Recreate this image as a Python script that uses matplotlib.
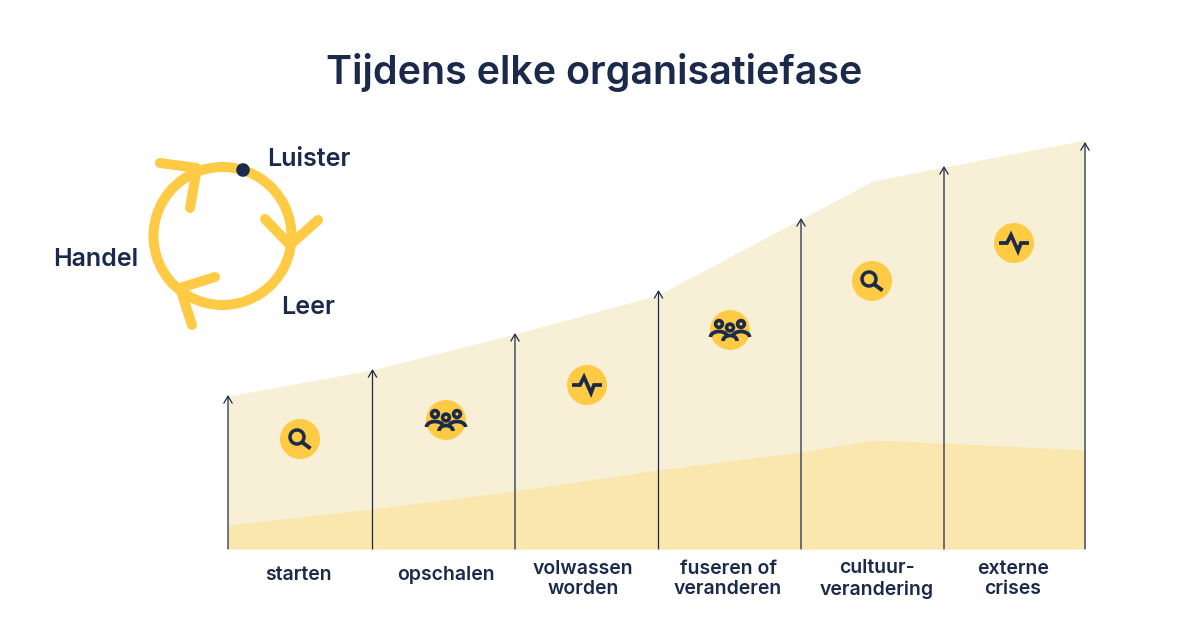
import numpy as np
import matplotlib
matplotlib.use("Agg")
import matplotlib.pyplot as plt
from matplotlib.patches import Circle

plt.rcParams["font.family"] = ["Inter", "Lato", "DejaVu Sans"]

NAVY = "#1b2a4a"
YELLOW = "#ffcb45"
BAND_UPPER = "#f8f0d6"
BAND_LOWER = "#f9e7ae"

# stage boundaries, heights are measured above the baseline
area_x = [228, 372, 515, 658, 801, 873, 944, 1085]
upper_height = [153, 179, 215, 254, 330, 368, 382, 409]
lower_height = [24, 40, 58, 79, 97, 109, 106, 99]
arrow_x = [228, 372.5, 515, 658.5, 801, 944, 1085]
arrow_height = [154, 180, 216, 259, 331, 383, 407]

stage_labels = ["starten", "opschalen", "volwassen\nworden", "fuseren of\nveranderen",
                "cultuur-\nverandering", "externe\ncrises"]
stage_label_x = [298.5, 445.5, 583, 728, 877, 1013]

icon_kind = ["search", "people", "pulse", "people", "search", "pulse"]
icon_x = [300, 446, 587, 730, 872, 1014]
icon_height = [110, 129, 164, 219, 268, 306]

BASE = 549


def draw_icon(ax, kind, x, y):
    # y is height above baseline, drawn in a screen-like pixel frame
    ax.add_patch(Circle((x, y), 20, color=YELLOW, zorder=4, lw=0))
    kw = dict(color=NAVY, zorder=5, solid_capstyle="butt", solid_joinstyle="miter")
    if kind == "search":
        ax.add_patch(Circle((x - 3, y + 2), 7, fill=False, ec=NAVY, lw=2.5, zorder=5))
        ax.plot([x + 2.5, x + 10.5], [y - 3.5, y - 9.5], lw=2.8, **kw)
    elif kind == "pulse":
        ax.plot([x - 15, x - 7, x - 3, x + 4, x + 7, x + 15],
                [y, y, y + 8, y - 8, y, y], lw=2.7, **kw)
    else:
        for dx, dy, r in [(-11, 6, 3.4), (11, 6, 3.4), (0, 2.5, 3.4)]:
            ax.add_patch(Circle((x + dx, y + dy), r, fill=False, ec=NAVY, lw=2.6, zorder=5))
        t = np.linspace(0, np.pi, 30)
        for dx, dy, rx in [(-11, -7, 8.5), (11, -7, 8.5), (0, -11, 7)]:
            ax.plot(x + dx + rx * np.cos(t), y + dy + 5.5 * np.sin(t), lw=2.7, **kw)


fig = plt.figure(figsize=(12, 6.31), dpi=100)
ax = fig.add_axes([0, 0, 1, 1])
ax.set_xlim(0, 1200)
ax.set_ylim(BASE - 631, BASE)
ax.axis("off")

ax.fill_between(area_x, 0, upper_height, color=BAND_UPPER, lw=0, zorder=1)
ax.fill_between(area_x, 0, lower_height, color=BAND_LOWER, lw=0, zorder=2)

for x, h in zip(arrow_x, arrow_height):
    ax.annotate("", xy=(x, h), xytext=(x, 0), zorder=3,
                arrowprops=dict(arrowstyle="->,head_length=0.5,head_width=0.3",
                                color=NAVY, lw=0.9, shrinkA=0, shrinkB=0))

for kind, x, h in zip(icon_kind, icon_x, icon_height):
    draw_icon(ax, kind, x, h)

for label, x in zip(stage_labels, stage_label_x):
    ax.text(x, -26 if "\n" not in label else -30, label, ha="center", va="center",
            fontsize=14, fontweight=600, color=NAVY, linespacing=1.2)

ax.text(594.5, BASE - 72, "Tijdens elke organisatiefase", ha="center", va="center",
        fontsize=28.4, fontweight=600, color=NAVY)

# feedback loop
cx, cy, r = 222.5, BASE - 236, 69
ax.add_patch(Circle((cx, cy), r, fill=False, ec=YELLOW, lw=7.2, zorder=4))
for tip, a, b in [((197, 168), (160, 163), (190, 208)),
                  ((290, 245), (265, 219), (318, 220)),
                  ((180, 288), (215, 277), (192, 325))]:
    ax.plot([a[0], tip[0], b[0]], [BASE - a[1], BASE - tip[1], BASE - b[1]], color=YELLOW,
            lw=7.2, solid_capstyle="round", solid_joinstyle="round", zorder=4)
ax.add_patch(Circle((243, BASE - 170), 6.8, color=NAVY, lw=0, zorder=5))

for txt, x, y in [("Luister", 267, 160), ("Handel", 53.5, 259), ("Leer", 281.5, 308)]:
    ax.text(x, BASE - y, txt, ha="left", va="center", fontsize=18, fontweight=600, color=NAVY)

fig.savefig("out.png", dpi=100)
